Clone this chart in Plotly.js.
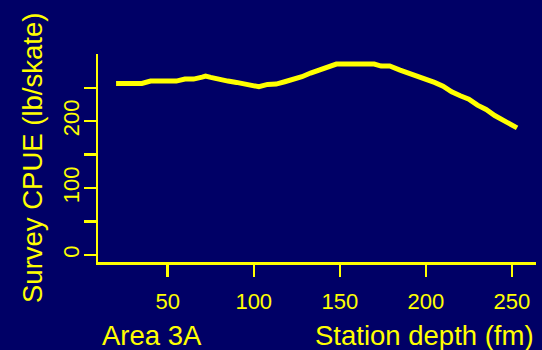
<!DOCTYPE html>
<html>
<head>
<meta charset="utf-8">
<script src="https://cdn.plot.ly/plotly-3.0.1.min.js"></script>
<style>
  html, body { margin: 0; padding: 0; background: #000066; }
  #chart { width: 542px; height: 350px; }
</style>
</head>
<body>
<div id="chart"></div>
<script>
// Smoothed survey catch rate by station depth, Area 3A
const depthFm = [20, 25, 30, 35, 40, 45, 50, 55, 60, 65, 70, 72, 75, 80, 85, 90, 95, 100, 103,
  108, 113, 118, 123, 128, 133, 138, 143, 148, 155, 160, 165, 170, 174, 179, 185, 190, 195,
  200, 205, 210, 215, 220, 225, 230, 235, 240, 245, 250, 253];
const cpue = [256.5, 256.5, 256.5, 256.5, 260, 260, 260, 260, 263, 263, 266, 267.5, 265.5, 262,
  260, 258, 255, 253, 251.5, 255, 255.5, 259, 262, 266.5, 272, 277, 282, 285.5, 285.5, 285.5,
  285.5, 285.5, 282.5, 282.5, 276.5, 272, 268, 263, 258, 252.5, 244, 238, 233, 224, 217.5,
  208.5, 202, 195, 190];

const xTicks = [50, 100, 150, 200, 250];
const yTicks = [0, 50, 100, 150, 200, 250];
const yTickText = ["0", "", "100", "", "200", ""];

const fg = "#ffff00";
const bg = "#000066";
const fontFamily = "'Liberation Sans', Arial, sans-serif";

const trace = {
  x: depthFm,
  y: cpue,
  type: "scatter",
  mode: "lines",
  line: { color: fg, width: 5 },
  hoverinfo: "skip"
};

const layout = {
  width: 542,
  height: 350,
  paper_bgcolor: bg,
  plot_bgcolor: bg,
  showlegend: false,
  margin: { l: 98, r: 6, t: 54, b: 88 },
  font: { family: fontFamily, color: fg, size: 22 },
  xaxis: {
    range: [9.5, 264],
    showgrid: false,
    zeroline: false,
    showline: true,
    linecolor: fg,
    linewidth: 2.5,
    ticks: "outside",
    ticklen: 12,
    tickwidth: 2.5,
    tickcolor: fg,
    tickmode: "array",
    tickvals: xTicks,
    ticktext: xTicks.map(String),
    tickfont: { family: fontFamily, color: fg, size: 22 },
    ticklabelstandoff: 6
  },
  yaxis: {
    range: [-10.5, 300.5],
    showgrid: false,
    zeroline: false,
    showline: true,
    linecolor: fg,
    linewidth: 2.5,
    ticks: "outside",
    ticklen: 12,
    tickwidth: 2.5,
    tickcolor: fg,
    tickmode: "array",
    tickvals: yTicks,
    ticktext: yTickText,
    tickangle: -90,
    tickfont: { family: fontFamily, color: fg, size: 22 },
    ticklabelstandoff: -4
  },
  annotations: [
    {
      text: "Survey CPUE (lb/skate)",
      xref: "paper", yref: "paper",
      x: 0, y: 0.5,
      xanchor: "center", yanchor: "middle",
      xshift: -66, yshift: 0,
      textangle: -90,
      showarrow: false,
      font: { family: fontFamily, color: fg, size: 27.5 }
    },
    {
      text: "Area 3A",
      xref: "paper", yref: "paper",
      x: 0, y: 0,
      xanchor: "left", yanchor: "middle",
      xshift: 2, yshift: -73,
      showarrow: false,
      font: { family: fontFamily, color: fg, size: 27.5 }
    },
    {
      text: "Station depth (fm)",
      xref: "paper", yref: "paper",
      x: 1, y: 0,
      xanchor: "right", yanchor: "middle",
      xshift: 0, yshift: -73,
      showarrow: false,
      font: { family: fontFamily, color: fg, size: 27.5 }
    }
  ]
};

Plotly.newPlot("chart", [trace], layout, { staticPlot: true, displayModeBar: false });
</script>
</body>
</html>
